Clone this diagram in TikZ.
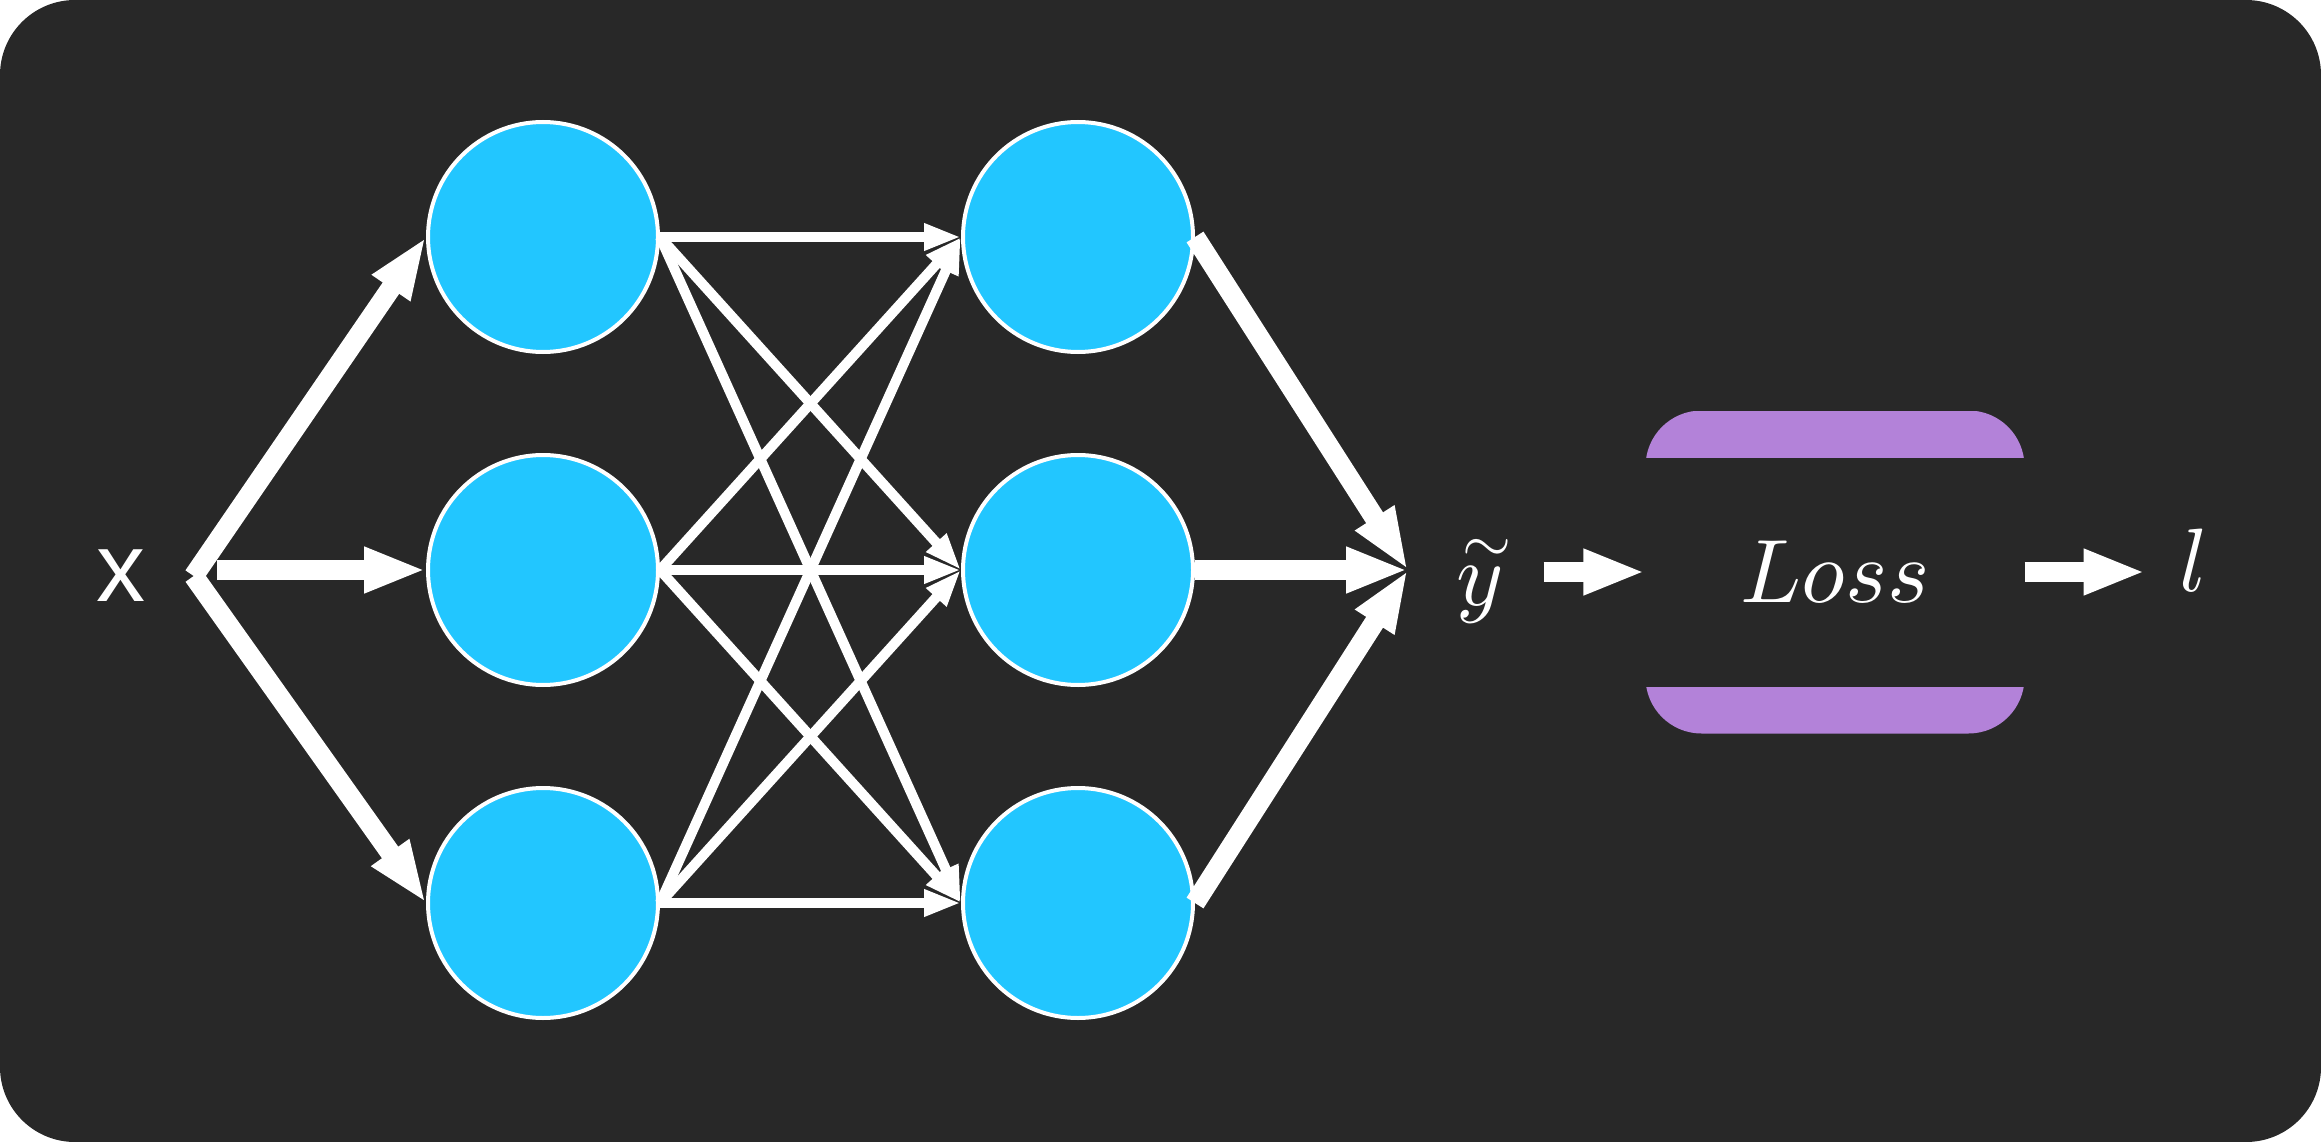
\documentclass[tikz,border=0pt]{standalone}
\usepackage{fontspec}
\usepackage{amsmath}
\usepackage{xcolor}
\usepackage{tikz}
\usetikzlibrary{arrows.meta}
\newfontfamily\labelfont{Liberation Sans}
% let the math fonts scale to any size
\DeclareFontFamily{OML}{cmm}{\skewchar\font'177}
\DeclareFontShape{OML}{cmm}{m}{it}{<->cmmi10}{}
\DeclareFontFamily{OT1}{cmr}{\hyphenchar\font45 }
\DeclareFontShape{OT1}{cmr}{m}{n}{<->cmr10}{}
\DeclareFontFamily{OMS}{cmsy}{\skewchar\font'60}
\DeclareFontShape{OMS}{cmsy}{m}{n}{<->cmsy10}{}
\definecolor{bgdark}{RGB}{40,40,40}
\definecolor{neuroncyan}{RGB}{34,198,255}
\definecolor{losspurple}{RGB}{179,130,217}

\begin{document}
\begin{tikzpicture}[x=1pt,y=-1pt]
    \tikzstyle{neuron}=[circle,draw=white,line width=4pt,fill=neuroncyan,minimum size=230pt,inner sep=0pt]
    \tikzstyle{bigarrow}=[white,line width=20pt,-{Triangle[length=62pt,width=42pt]}]
    \tikzstyle{wire}=[white,line width=10pt,-{Triangle[length=37pt,width=25pt]}]
    \tikzstyle{lbl}=[text=white,inner ysep=0pt]
    \tikzstyle{lossbox}=[rectangle,rounded corners=56pt,fill=bgdark,text=white,
        minimum width=379pt,minimum height=323pt,
        path picture={
            \fill[losspurple,sharp corners] (path picture bounding box.north west)
                rectangle ([yshift=-47pt]path picture bounding box.north east);
            \fill[losspurple,sharp corners] ([yshift=47pt]path picture bounding box.south west)
                rectangle (path picture bounding box.south east);}]
\useasboundingbox (0,0) rectangle (2321,1142);
\fill[bgdark,rounded corners=75pt] (0,0) rectangle (2321,1142);

% input
\node[lbl,inner xsep=48pt] (x) at (121,576) {\labelfont\fontsize{98}{98}\selectfont x};

% hidden layers
\node[neuron] (a1) at (543,237) {};
\node[neuron] (a2) at (543,570) {};
\node[neuron] (a3) at (543,903) {};
\node[neuron] (b1) at (1078,237) {};
\node[neuron] (b2) at (1078,570) {};
\node[neuron] (b3) at (1078,903) {};

% output side
\coordinate (join) at (1408,570);
\node[lbl,inner xsep=32pt] (yhat) at (1480,580) {\fontsize{90}{90}\selectfont$\overset{\kern14pt\sim}{y}$};
\node[lossbox] (loss) at (1835,572) {\fontsize{90}{90}\selectfont$Loss$};
\node[lbl,inner xsep=34pt] (l) at (2194,560) {\fontsize{90}{90}\selectfont$l$};

\draw[bigarrow] (x.east) -- (a1.west);
\draw[bigarrow,shorten <=23pt] (x.east |- a2.west) -- (a2.west);
\draw[bigarrow] (x.east) -- (a3.west);

\draw[wire] (a1.east) -- (b1.west);
\draw[wire] (a1.east) -- (b2.west);
\draw[wire] (a1.east) -- (b3.west);
\draw[wire] (a2.east) -- (b1.west);
\draw[wire] (a2.east) -- (b2.west);
\draw[wire] (a2.east) -- (b3.west);
\draw[wire] (a3.east) -- (b1.west);
\draw[wire] (a3.east) -- (b2.west);
\draw[wire] (a3.east) -- (b3.west);

\draw[bigarrow] (b1.east) -- (join);
\draw[bigarrow] (b2.east) -- (join);
\draw[bigarrow] (b3.east) -- (join);

\draw[bigarrow] (yhat.east |- loss.west) -- (loss.west);
\draw[bigarrow] (loss.east) -- (loss.east -| l.west);
    ;
\end{tikzpicture}
\end{document}
